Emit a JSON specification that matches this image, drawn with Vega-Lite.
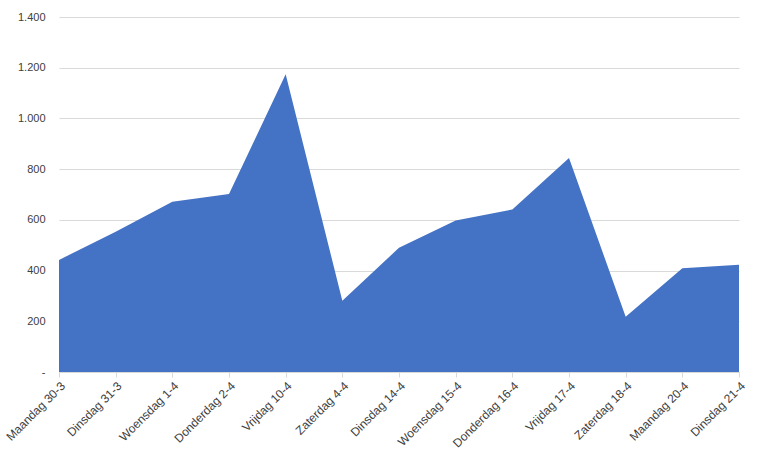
{
  "$schema": "https://vega.github.io/schema/vega-lite/v6.json",
  "width": 680,
  "height": 355,
  "autosize": "none",
  "padding": {"left": 59, "top": 17, "right": 42, "bottom": 78},
  "background": "white",
  "config": {"view": {"stroke": null}, "font": "Liberation Sans"},
  "data": {"values": [
    {"dag": "Maandag 30-3", "waarde": 442},
    {"dag": "Dinsdag 31-3", "waarde": 553},
    {"dag": "Woensdag 1-4", "waarde": 671},
    {"dag": "Donderdag 2-4", "waarde": 702},
    {"dag": "Vrijdag 10-4", "waarde": 1174},
    {"dag": "Zaterdag 4-4", "waarde": 281},
    {"dag": "Dinsdag 14-4", "waarde": 490},
    {"dag": "Woensdag 15-4", "waarde": 597},
    {"dag": "Donderdag 16-4", "waarde": 641},
    {"dag": "Vrijdag 17-4", "waarde": 844},
    {"dag": "Zaterdag 18-4", "waarde": 218},
    {"dag": "Maandag 20-4", "waarde": 409},
    {"dag": "Dinsdag 21-4", "waarde": 423}
  ]},
  "mark": {"type": "area", "color": "#4472C4", "opacity": 1},
  "encoding": {
    "x": {
      "field": "dag", "type": "ordinal", "sort": null,
      "scale": {"type": "point", "padding": 0},
      "axis": {
        "title": null, "labelAngle": -45, "labelAlign": "right", "labelBaseline": "top",
        "labelFontSize": 12, "labelColor": "#404040", "labelPadding": 3,
        "domainColor": "#d9d9d9", "tickColor": "#d9d9d9", "tickSize": 5, "grid": false
      }
    },
    "y": {
      "field": "waarde", "type": "quantitative",
      "scale": {"domain": [0, 1400], "nice": false},
      "axis": {
        "title": null, "values": [0, 200, 400, 600, 800, 1000, 1200, 1400],
        "labelExpr": "datum.value == 0 ? '-' : replace(format(datum.value, ','), ',', '.')",
        "labelFontSize": 11, "labelColor": "#404040", "labelPadding": 14,
        "domain": false, "ticks": false, "gridColor": "#d9d9d9", "gridWidth": 1
      }
    }
  }
}
